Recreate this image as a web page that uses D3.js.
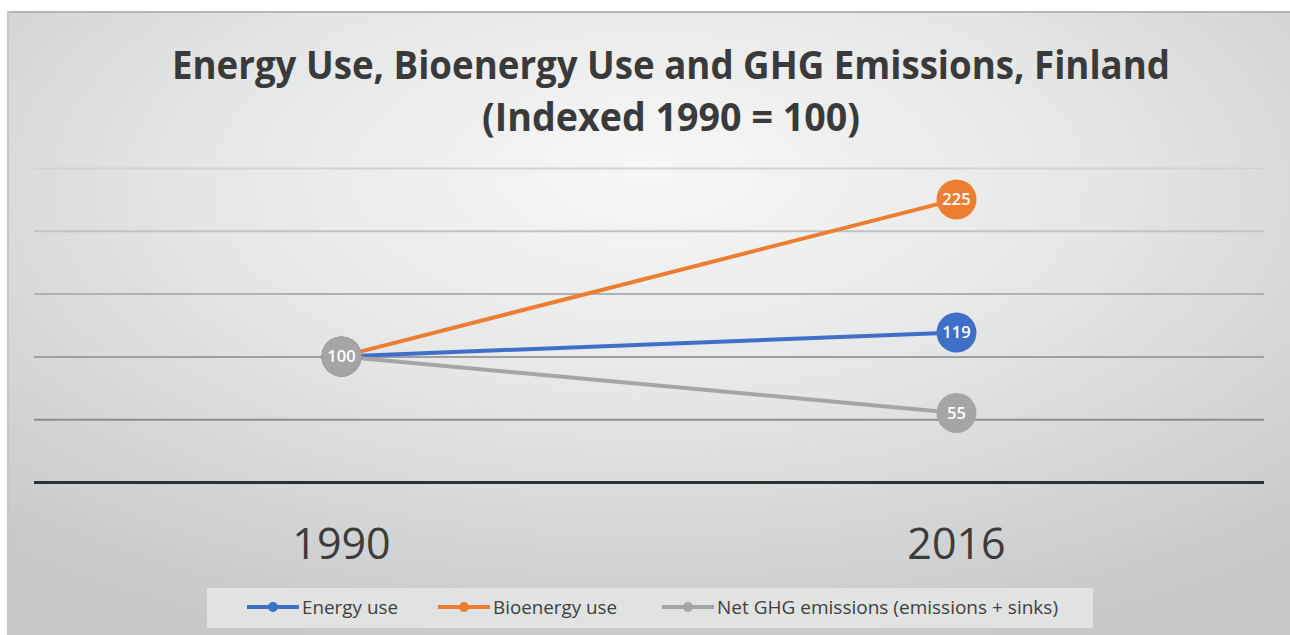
<!DOCTYPE html>
<html>
<head>
<meta charset="utf-8">
<script src="https://cdn.jsdelivr.net/npm/d3@7"></script>
<style>
  html, body { margin: 0; padding: 0; background: #ffffff; }
  svg { display: block; }
</style>
</head>
<body>
<svg id="chart" width="1290" height="635"></svg>
<script>
// ---- Data ----
const categories = ["1990", "2016"];
const energyUse = [100, 119];
const bioenergyUse = [100, 225];
const netGhgEmissions = [100, 55];
const yTicks = [0, 50, 100, 150, 200, 250];
const seriesNames = ["Energy use", "Bioenergy use", "Net GHG emissions (emissions + sinks)"];
const titleLines = ["Energy Use, Bioenergy Use and GHG Emissions, Finland", "(Indexed 1990 = 100)"];

const series = [
  { name: seriesNames[0], values: energyUse, color: "#3f6fc6" },
  { name: seriesNames[1], values: bioenergyUse, color: "#ed7d31" },
  { name: seriesNames[2], values: netGhgEmissions, color: "#a5a5a5" }
];

const svg = d3.select("#chart");
const W = 1290, H = 635;

// ---- Background ----
const defs = svg.append("defs");
const grad = defs.append("radialGradient").attr("id", "bg")
  .attr("cx", "0.5").attr("cy", "0.3").attr("r", "0.75").attr("fx", "0.5").attr("fy", "0.25");
grad.append("stop").attr("offset", "0").attr("stop-color", "#f7f7f7");
grad.append("stop").attr("offset", "0.45").attr("stop-color", "#e6e7e7");
grad.append("stop").attr("offset", "1").attr("stop-color", "#c6c8c9");

svg.append("rect").attr("x", 7).attr("y", 11).attr("width", W - 7).attr("height", H - 11)
  .attr("fill", "url(#bg)");
svg.append("line").attr("x1", 7).attr("x2", W).attr("y1", 12).attr("y2", 12)
  .attr("stroke", "#b4b6b7").attr("stroke-width", 2);
svg.append("line").attr("x1", 8).attr("x2", 8).attr("y1", 11).attr("y2", H)
  .attr("stroke", "#c4c6c7").attr("stroke-width", 2);

// ---- Scales ----
const x = d3.scaleBand().domain(categories).range([34, 1264]).padding(0);
const y = d3.scaleLinear().domain([0, 250]).range([482, 168]);
const cx = c => x(c) + x.bandwidth() / 2;

// ---- Gridlines ----
const gridColors = d3.scaleLinear().domain([50, 250]).range(["#8c8e90", "#d2d3d4"]);
const grid = svg.append("g").attr("transform", "translate(34,0)")
  .call(d3.axisLeft(y).tickValues(yTicks).tickSize(-1230).tickFormat(""));
grid.select(".domain").remove();
grid.selectAll(".tick line")
  .attr("stroke", d => d === 0 ? "#2b3034" : gridColors(d))
  .attr("stroke-width", d => d === 0 ? 3 : 2);

// ---- X axis labels ----
const xAxis = svg.append("g").attr("transform", "translate(0,482)")
  .call(d3.axisBottom(x).tickSize(0).tickPadding(46));
xAxis.select(".domain").remove();
xAxis.selectAll("text")
  .attr("font-family", "'Open Sans', sans-serif")
  .attr("font-size", 43)
  .attr("fill", "#3c3c3c");

// ---- Title ----
svg.append("text").attr("x", 671).attr("y", 79).attr("text-anchor", "middle")
  .attr("font-family", "'Open Sans', sans-serif").attr("font-weight", 700)
  .attr("font-size", 40).attr("fill", "#3a3a3a")
  .attr("textLength", 998).attr("lengthAdjust", "spacingAndGlyphs")
  .text(titleLines[0]);
svg.append("text").attr("x", 671).attr("y", 131).attr("text-anchor", "middle")
  .attr("font-family", "'Open Sans', sans-serif").attr("font-weight", 700)
  .attr("font-size", 40).attr("fill", "#3a3a3a")
  .attr("textLength", 378).attr("lengthAdjust", "spacingAndGlyphs")
  .text(titleLines[1]);

// ---- Lines ----
const line = d3.line().x((d, i) => cx(categories[i])).y(d => y(d));
const drawOrder = [series[1], series[0], series[2]];
svg.append("g").selectAll("path").data(drawOrder).join("path")
  .attr("d", s => line(s.values))
  .attr("fill", "none")
  .attr("stroke", s => s.color)
  .attr("stroke-width", 4);

// ---- Markers with labels ----
const pts = [];
drawOrder.forEach(s => s.values.forEach((v, i) => pts.push({ s, v, c: categories[i] })));
const mk = svg.append("g").selectAll("g").data(pts).join("g")
  .attr("transform", d => `translate(${cx(d.c)},${y(d.v)})`);
mk.append("circle").attr("r", 20).attr("fill", d => d.s.color);
mk.append("text").attr("text-anchor", "middle").attr("dy", "0.36em")
  .attr("font-family", "'Open Sans', sans-serif").attr("font-weight", 600)
  .attr("font-size", 16.5).attr("fill", "#ffffff")
  .text(d => d.v);

// ---- Legend ----
svg.append("rect").attr("x", 207).attr("y", 588).attr("width", 886).attr("height", 40)
  .attr("fill", "#e1e2e2");
const legendX = [247, 438, 662];
const legendTextLen = [96, 124, 341];
const lg = svg.append("g").selectAll("g").data(series).join("g")
  .attr("transform", (d, i) => `translate(${legendX[i]},607)`);
lg.append("line").attr("x1", 0).attr("x2", 52).attr("stroke", d => d.color).attr("stroke-width", 4);
lg.append("circle").attr("cx", 26).attr("r", 5).attr("fill", d => d.color);
lg.append("text").attr("x", 55).attr("y", 7)
  .attr("font-family", "'Open Sans', sans-serif").attr("font-size", 18)
  .attr("fill", "#404040")
  .attr("textLength", (d, i) => legendTextLen[i]).attr("lengthAdjust", "spacingAndGlyphs")
  .text(d => d.name);
</script>
</body>
</html>
